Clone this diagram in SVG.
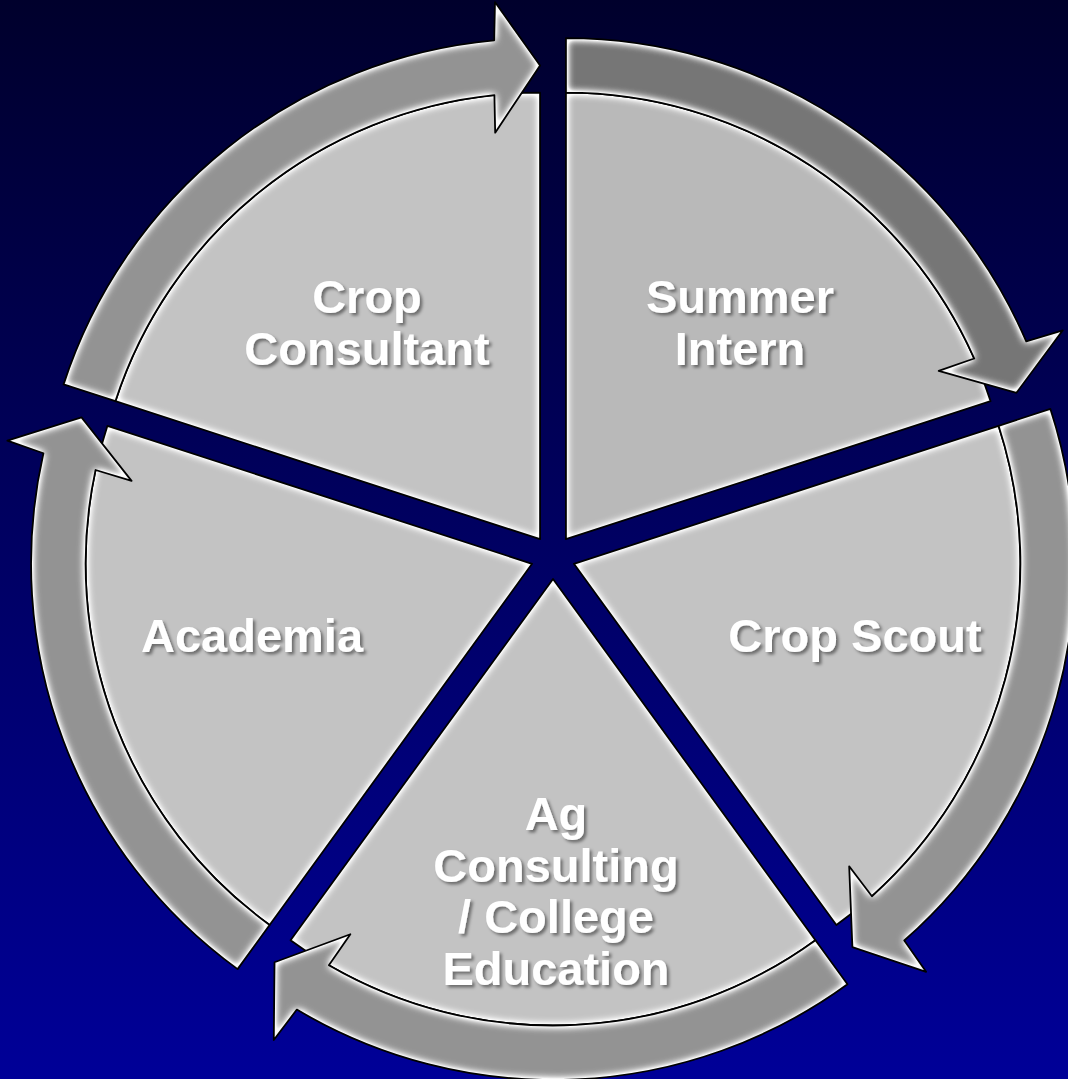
<svg xmlns="http://www.w3.org/2000/svg" width="1068" height="1079" viewBox="0 0 1068 1079">
<style>
.wedge{fill:#C3C3C3;filter:url(#bevel)}
.wedge.dark{fill:#B9B9B9}
.band{fill:#939393;filter:url(#bevel)}
.band.dark{fill:#767676}
.edge{fill:none;stroke:#000;stroke-width:1.8;stroke-linejoin:round}
.lbl{font-family:"Liberation Sans",Arial,sans-serif;font-weight:bold;font-size:47px;fill:#fff;text-anchor:middle;filter:url(#shadow)}
</style>
<defs>
<linearGradient id="bg" x1="0" y1="0" x2="0" y2="1">
<stop offset="0" stop-color="#00002C"/>
<stop offset="1" stop-color="#000098"/>
</linearGradient>
<filter id="bevel" x="-10%" y="-10%" width="120%" height="120%" color-interpolation-filters="sRGB">
<feGaussianBlur in="SourceAlpha" stdDeviation="4" result="b"/>
<feComposite in="SourceAlpha" in2="b" operator="arithmetic" k1="0" k2="2.6" k3="-2.6" k4="0" result="e"/>
<feFlood flood-color="#ffffff" flood-opacity="0.95"/>
<feComposite in2="e" operator="in" result="g"/>
<feMerge><feMergeNode in="SourceGraphic"/><feMergeNode in="g"/></feMerge>
</filter>
<filter id="shadow" x="-10%" y="-20%" width="120%" height="140%">
<feDropShadow dx="2.5" dy="2.5" stdDeviation="1.5" flood-color="#000" flood-opacity="0.45"/>
</filter>
<path id="w1" d="M565.93,539.2 L565.93,92.7 A446.5,446.5 0 0 1 990.58,401.22 Z"/>
<path id="w2" d="M573.92,563.8 L998.57,425.82 A446.5,446.5 0 0 1 836.37,925.03 Z"/>
<path id="w3" d="M553,579 L815.45,940.23 A446.5,446.5 0 0 1 290.55,940.23 Z"/>
<path id="w4" d="M532.08,563.8 L269.63,925.03 A446.5,446.5 0 0 1 107.43,425.82 Z"/>
<path id="w5" d="M540.07,539.2 L115.42,401.22 A446.5,446.5 0 0 1 540.07,92.7 Z"/>
<path id="a1" d="M565.93,38.2 A501,501 0 0 1 1026.24,341.43 L1062.81,330.33 L1016.49,392.8 L938.69,370.89 L974.24,358.52 A446.5,446.5 0 0 0 565.93,92.7 Z"/>
<path id="a2" d="M1050.4,408.98 A501,501 0 0 1 904.25,940.47 L926.11,971.82 L852.39,947.07 L849.18,866.31 L871.94,896.29 A446.5,446.5 0 0 0 998.57,425.82 Z"/>
<path id="a3" d="M847.48,984.32 A501,501 0 0 1 296.84,1009.56 L273.78,1040.04 L274.53,962.27 L350.36,934.27 L328.87,965.17 A446.5,446.5 0 0 0 815.45,940.23 Z"/>
<path id="a4" d="M237.6,969.12 A501,501 0 0 1 43.43,453.23 L7.32,440.72 L81.52,417.4 L131.58,480.86 L95.55,469.99 A446.5,446.5 0 0 0 269.63,925.03 Z"/>
<path id="a5" d="M63.59,384.38 A501,501 0 0 1 494.23,40.3 L494.97,2.09 L540.07,65.45 L495.19,132.67 L494.4,95.04 A446.5,446.5 0 0 0 115.42,401.22 Z"/>
</defs>
<rect x="0" y="0" width="1068" height="1079" fill="url(#bg)"/>
<g id="node-summer-intern">
<use href="#w1" class="wedge dark"/><use href="#w1" class="edge"/>
<text class="lbl" x="740" y="313">Summer</text>
<text class="lbl" x="740" y="365">Intern</text>
</g>
<g id="node-crop-scout">
<use href="#w2" class="wedge"/><use href="#w2" class="edge"/>
<text class="lbl" x="855" y="652">Crop Scout</text>
</g>
<g id="node-ag-consulting">
<use href="#w3" class="wedge"/><use href="#w3" class="edge"/>
<text class="lbl" x="556" y="830">Ag</text>
<text class="lbl" x="556" y="882">Consulting</text>
<text class="lbl" x="556" y="933">/ College</text>
<text class="lbl" x="556" y="985">Education</text>
</g>
<g id="node-academia">
<use href="#w4" class="wedge"/><use href="#w4" class="edge"/>
<text class="lbl" x="252" y="652">Academia</text>
</g>
<g id="node-crop-consultant">
<use href="#w5" class="wedge"/><use href="#w5" class="edge"/>
<text class="lbl" x="367" y="313">Crop</text>
<text class="lbl" x="367" y="365">Consultant</text>
</g>
<g id="connectors">
<use href="#a1" class="band dark"/><use href="#a1" class="edge"/>
<use href="#a2" class="band"/><use href="#a2" class="edge"/>
<use href="#a3" class="band"/><use href="#a3" class="edge"/>
<use href="#a4" class="band"/><use href="#a4" class="edge"/>
<use href="#a5" class="band"/><use href="#a5" class="edge"/>
</g>
</svg>
